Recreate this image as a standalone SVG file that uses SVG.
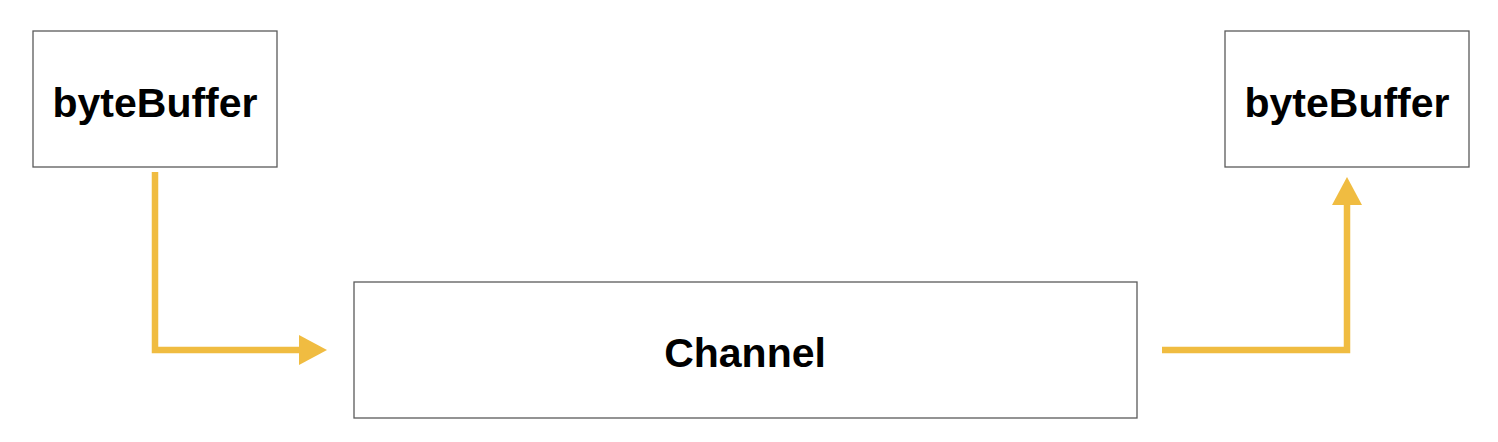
<svg xmlns="http://www.w3.org/2000/svg" width="1498" height="442" viewBox="0 0 1498 442">
<defs>
<style>
.box{fill:#ffffff;stroke:#5a5a5a;stroke-width:1.3}
.lbl{font-family:"Liberation Sans",Arial,Helvetica,sans-serif;font-weight:bold;font-size:41px;fill:#000;text-anchor:middle}
.conn{fill:none;stroke:#F0BC41;stroke-width:6.5}
</style>
<marker id="arr" markerUnits="userSpaceOnUse" markerWidth="30" markerHeight="30" viewBox="0 0 28 30" refX="0" refY="15" orient="auto">
<path d="M0,0 L28,15 L0,30 Z" fill="#F0BC41"/>
</marker>
</defs>
<rect width="1498" height="442" fill="#ffffff"/>
<g id="node-bytebuffer-left">
<rect class="box" x="33" y="31" width="244" height="136"/>
<text class="lbl" x="155" y="117">byteBuffer</text>
</g>
<g id="node-channel">
<rect class="box" x="354" y="282" width="783" height="136"/>
<text class="lbl" x="745" y="367">Channel</text>
</g>
<g id="node-bytebuffer-right">
<rect class="box" x="1225" y="31" width="244" height="136"/>
<text class="lbl" x="1347" y="117">byteBuffer</text>
</g>
<g id="connectors">
<path class="conn" d="M155,172 V350 H299" marker-end="url(#arr)"/>
<path class="conn" d="M1162,350 H1347 V205" marker-end="url(#arr)"/>
</g>
</svg>
